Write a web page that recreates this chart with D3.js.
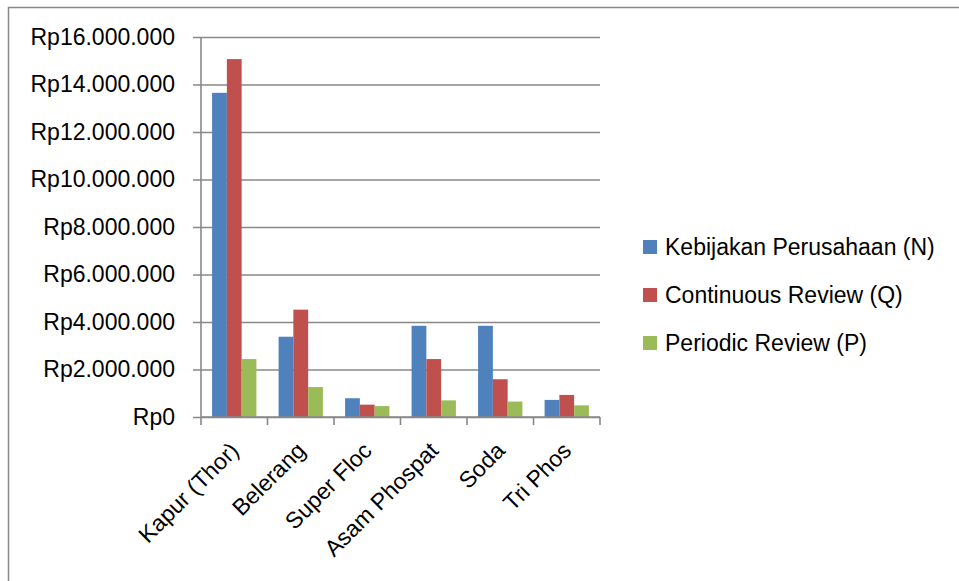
<!DOCTYPE html>
<html>
<head>
<meta charset="utf-8">
<script src="https://cdn.jsdelivr.net/npm/d3@7"></script>
<style>
  body { margin: 0; background: #fff; }
  svg text { font-family: "Liberation Sans", Arial, sans-serif; fill: #000; }
</style>
</head>
<body>
<svg id="chart" width="959" height="581"></svg>
<script>
var categories = ["Kapur (Thor)", "Belerang", "Super Floc", "Asam Phospat", "Soda", "Tri Phos"];
var seriesNames = ["Kebijakan Perusahaan (N)", "Continuous Review (Q)", "Periodic Review (P)"];
var kebijakan = [13650000, 3380000, 790000, 3840000, 3840000, 720000];
var continuous = [15070000, 4520000, 520000, 2440000, 1590000, 930000];
var periodic = [2440000, 1260000, 460000, 700000, 650000, 490000];
var yTicks = [0, 2000000, 4000000, 6000000, 8000000, 10000000, 12000000, 14000000, 16000000];
var colors = ["#4f81bd", "#c0504d", "#9bbb59"];

var seriesValues = [kebijakan, continuous, periodic];
var data = categories.map(function(c, i) {
    return { cat: c, vals: seriesValues.map(function(s) { return s[i]; }) };
});

var margin = { top: 37, left: 201 };
var chartWidth = 399;
var chartHeight = 380;
var fontSize = "23px";

var svg = d3.select("#chart");

// outer border (only top and left visible)
svg.append("rect")
    .attr("x", 8.5).attr("y", 7.5)
    .attr("width", 1000).attr("height", 1000)
    .style("fill", "none")
    .style("stroke", "#888")
    .style("stroke-width", 1.5);

var g = svg.append("g")
    .attr("transform", "translate(" + margin.left + "," + margin.top + ")");

var xScale = d3.scaleBand()
    .domain(categories)
    .range([0, chartWidth]);

var yScale = d3.scaleLinear()
    .domain([0, 16000000])
    .range([chartHeight, 0]);

var fmt = function(v) {
    return "Rp" + d3.format(",")(v).replace(/,/g, ".");
};

// gridlines + y axis
var yAxis = g.append("g")
    .call(d3.axisLeft(yScale).tickValues(yTicks).tickFormat(fmt).tickSize(8));
yAxis.select(".domain").remove();
yAxis.selectAll(".tick line")
    .attr("x2", chartWidth)
    .attr("x1", -8)
    .style("stroke", "#888")
    .style("stroke-width", 1.6);
yAxis.selectAll("text")
    .attr("x", -26)
    .style("font-size", fontSize);

g.append("line")
    .attr("x1", 0).attr("x2", 0)
    .attr("y1", 0).attr("y2", chartHeight)
    .style("stroke", "#888")
    .style("stroke-width", 1.6);

// bars
var barW = xScale.bandwidth() / 4.5;
var groups = g.selectAll(".grp")
    .data(data)
    .enter()
    .append("g")
    .attr("class", "grp")
    .attr("transform", function(d) { return "translate(" + xScale(d.cat) + ",0)"; });

groups.selectAll("rect")
    .data(function(d) { return d.vals; })
    .enter()
    .append("rect")
    .attr("x", function(d, i) { return barW * 0.75 + i * barW; })
    .attr("y", function(d) { return yScale(d); })
    .attr("width", barW)
    .attr("height", function(d) { return chartHeight - yScale(d); })
    .style("fill", function(d, i) { return colors[i]; });

// x axis
var xAxisG = g.append("g")
    .attr("transform", "translate(0," + chartHeight + ")");
xAxisG.append("line")
    .attr("x1", 0).attr("x2", chartWidth)
    .style("stroke", "#888")
    .style("stroke-width", 1.6);
var bounds = categories.map(function(c) { return xScale(c); }).concat([chartWidth]);
xAxisG.selectAll(".tk")
    .data(bounds)
    .enter()
    .append("line")
    .attr("x1", function(d) { return d; })
    .attr("x2", function(d) { return d; })
    .attr("y1", 0).attr("y2", 8)
    .style("stroke", "#888")
    .style("stroke-width", 1.6);
xAxisG.selectAll(".lbl")
    .data(categories)
    .enter()
    .append("text")
    .attr("transform", function(d) {
        return "translate(" + (xScale(d) + xScale.bandwidth() / 2 + 6) + ",35) rotate(-45)";
    })
    .style("text-anchor", "end")
    .style("font-size", fontSize)
    .text(function(d) { return d; });

// legend
var legend = svg.append("g")
    .attr("transform", "translate(643,247)");
var items = legend.selectAll(".item")
    .data(seriesNames)
    .enter()
    .append("g")
    .attr("transform", function(d, i) { return "translate(0," + i * 48 + ")"; });
items.append("rect")
    .attr("x", 0).attr("y", -7)
    .attr("width", 14).attr("height", 14)
    .style("fill", function(d, i) { return colors[i]; });
items.append("text")
    .attr("x", 22)
    .attr("dy", "0.35em")
    .style("font-size", fontSize)
    .text(function(d) { return d; });
</script>
</body>
</html>
